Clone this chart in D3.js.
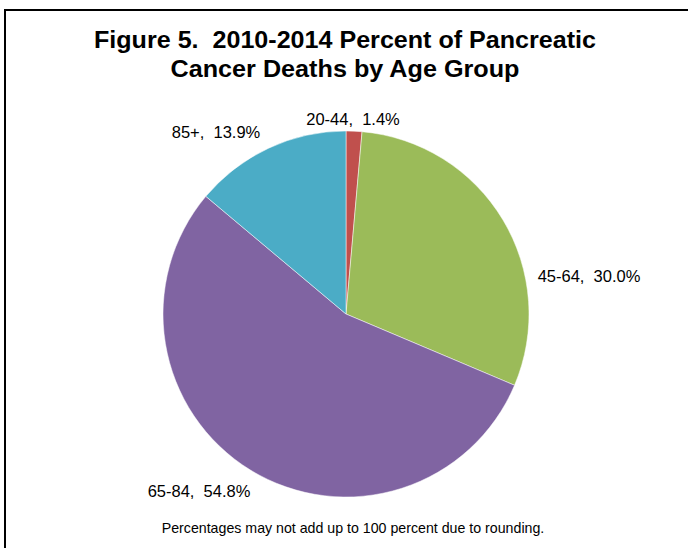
<!doctype html>
<html>
<head>
<meta charset="utf-8">
<style>
  body { margin: 0; background: white; }
  svg { font-family: Arial, 'Liberation Sans', sans-serif; }
  svg text { white-space: pre; }
  .title { font-weight: bold; font-size: 23px; fill: black; }
  .label { font-size: 16.5px; fill: black; }
  .note { font-size: 14.2px; fill: black; }
</style>
<script src="https://d3js.org/d3.v7.min.js"></script>
</head>
<body>
<svg width="688" height="548"></svg>
<script>
// data
var ageGroups = ["20-44", "45-64", "65-84", "85+"];
var percents = [1.4, 30.0, 54.8, 13.9];
var sliceColors = ["#C0504D", "#9BBB59", "#8064A2", "#4BACC6"];
var titleLines = ["Figure 5.  2010-2014 Percent of Pancreatic", "Cancer Deaths by Age Group"];
var footnote = "Percentages may not add up to 100 percent due to rounding.";

var svg = d3.select("svg");

// chart frame (runs off the right and bottom edges)
svg.append("rect")
  .attr("x", 5).attr("y", 10)
  .attr("width", 720).attr("height", 600)
  .attr("fill", "white")
  .attr("stroke", "black")
  .attr("stroke-width", 2);

var titleWidths = [502, 349];
svg.selectAll("text.title")
  .data(titleLines)
  .enter().append("text")
  .attr("class", "title")
  .attr("x", 345)
  .attr("y", function (d, i) { return 48 + i * 29; })
  .attr("text-anchor", "middle")
  .attr("textLength", function (d, i) { return titleWidths[i]; })
  .attr("lengthAdjust", "spacingAndGlyphs")
  .text(function (d) { return d; });

var cx = 346, cy = 314, radius = 183;

var pie = d3.pie().sort(null).value(function (d) { return d; });
var arc = d3.arc().innerRadius(0).outerRadius(radius);
var color = d3.scaleOrdinal().domain(ageGroups).range(sliceColors);

var arcs = pie(percents);

var g = svg.append("g").attr("transform", "translate(" + cx + "," + cy + ")");

g.selectAll("path")
  .data(arcs)
  .enter().append("path")
  .attr("d", arc)
  .attr("fill", function (d, i) { return color(ageGroups[i]); })
  .attr("stroke", "white")
  .attr("stroke-width", 0.5);

// label centres, as placed in the original
var labelAt = [[353, 125], [589, 282], [199, 497], [216, 138]];

svg.selectAll("text.label")
  .data(arcs)
  .enter().append("text")
  .attr("class", "label")
  .attr("x", function (d, i) { return labelAt[i][0]; })
  .attr("y", function (d, i) { return labelAt[i][1]; })
  .attr("text-anchor", "middle")
  .text(function (d, i) { return ageGroups[i] + ",  " + d3.format(".1f")(percents[i]) + "%"; });

svg.append("text")
  .attr("class", "note")
  .attr("x", 353)
  .attr("y", 533)
  .attr("text-anchor", "middle")
  .text(footnote);
</script>
</body>
</html>
